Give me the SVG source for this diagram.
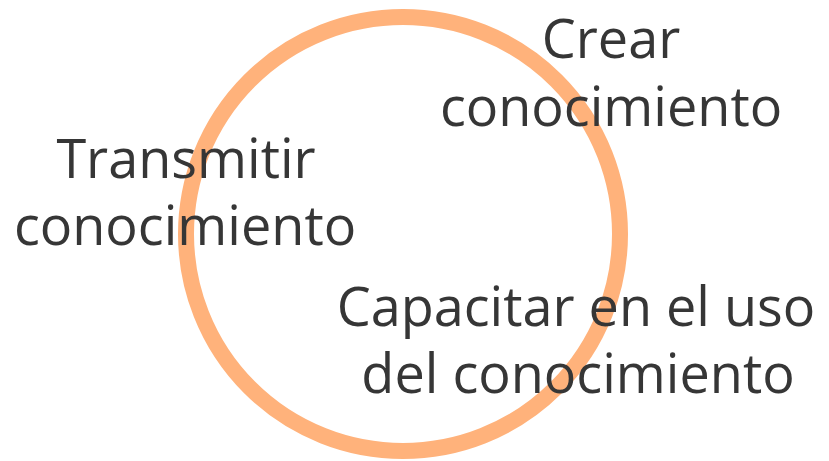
<svg xmlns="http://www.w3.org/2000/svg" width="829" height="461" viewBox="0 0 829 461">
<style>
.lbl{font-family:"Open Sans","Noto Sans",sans-serif;font-size:54px;fill:#363636;text-anchor:middle}
.ring{fill:none;stroke:#FFB27B;stroke-width:16}
</style>
<rect width="829" height="461" fill="#ffffff"/>
<g id="ring"><circle class="ring" cx="403" cy="234" r="217"/></g>
<g id="crear"><text class="lbl" x="611" y="58">Crear</text><text class="lbl" x="611" y="126">conocimiento</text></g>
<g id="transmitir"><text class="lbl" x="186" y="178">Transmitir</text><text class="lbl" x="185" y="245">conocimiento</text></g>
<g id="capacitar"><text class="lbl" x="576" y="326">Capacitar en el uso</text><text class="lbl" x="578" y="393">del conocimiento</text></g>
<g id="connectors"></g>
</svg>
